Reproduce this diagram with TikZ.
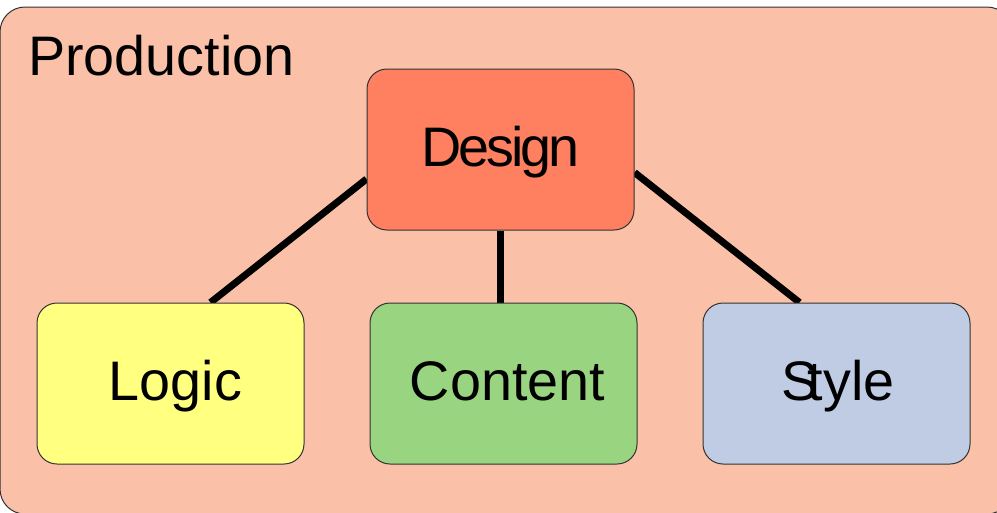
\documentclass[tikz,border=0pt]{standalone}
\usepackage{fontspec}
\setmainfont{Liberation Sans}
\usetikzlibrary{calc}
\pgfdeclarelayer{bg}
\pgfdeclarelayer{edges}
\pgfsetlayers{bg,edges,main}
\definecolor{prodfill}{RGB}{251,193,168}
\definecolor{designfill}{RGB}{255,128,96}
\definecolor{logicfill}{RGB}{255,255,128}
\definecolor{contentfill}{RGB}{153,212,128}
\definecolor{stylefill}{RGB}{191,204,228}
\definecolor{edgegray}{RGB}{50,50,50}
\tikzset{
  boxnode/.style={draw=edgegray, line width=1pt, rounded corners=20pt,
    minimum width=267pt, minimum height=161pt, inner sep=0pt,
    text height=40pt, text depth=7pt,
    font=\fontsize{55.7pt}{60pt}\selectfont},
  conn/.style={line width=7pt, black}
}
\begin{document}
\begin{tikzpicture}[x=1pt,y=-1pt]
\useasboundingbox (0,0) rectangle (997,512);
\clip (0,0) rectangle (997,512);
\begin{pgfonlayer}{bg}
  \draw[draw=edgegray, line width=1pt, fill=prodfill, rounded corners=25pt]
    (0,7) rectangle (1012,514);
\end{pgfonlayer}
\node[anchor=base west, inner sep=0pt, font=\fontsize{55.7pt}{60pt}\selectfont]
  (prod) at (28,75) {Production};
\node[boxnode, fill=designfill]  (Design)  at (500.5,149.5) {D\kern-3pt e\kern-3pt s\kern-3pt i\kern-3pt g\kern-3pt n};
\node[boxnode, fill=logicfill]   (Logic)   at (170.5,383.5) {\hspace*{10pt}Logic};
\node[boxnode, fill=contentfill] (Content) at (503.5,383.5) {\hspace*{8pt}Content};
\node[boxnode, fill=stylefill]   (Style)   at (836.5,383.5) {\hspace*{3pt}S\kern-11pt tyle};
\begin{pgfonlayer}{edges}
  \draw[conn] ($(Design.west)+(0,29.5)$) -- ($(Logic.north)+(40,0)$);
  \draw[conn] (Design.south) -- (Design.south |- Content.north);
  \draw[conn] ($(Design.east)+(0,23)$) -- ($(Style.north)+(-37,0)$);
\end{pgfonlayer}
\end{tikzpicture}
\end{document}
